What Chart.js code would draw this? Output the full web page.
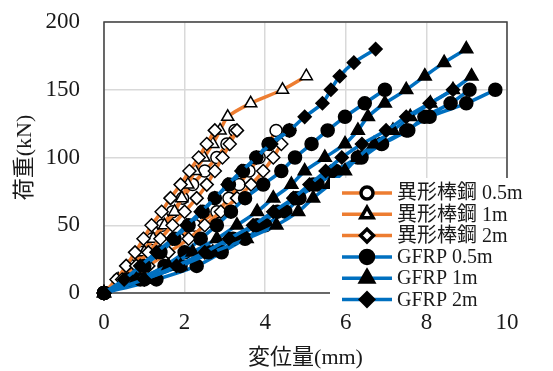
<!DOCTYPE html>
<html lang="ja">
<head>
  <meta charset="UTF-8">
  <title>荷重-変位量</title>
  <script src="https://cdn.jsdelivr.net/npm/chart.js"></script>
  <style>
    * { margin: 0; padding: 0; box-sizing: border-box; }
    body { background: #fff; width: 553px; height: 371px; overflow: hidden; }
  </style>
</head>
<body>
  <canvas id="chart" width="553" height="371"></canvas>

  <script>
    // load steps (kN), shared by every branch
    const loads = [0, 10, 20, 30, 40, 50, 60, 70, 80, 90, 100, 110, 120, 130, 140, 150, 160, 170, 180];

    // displacement (mm) at each load step, one array per loading branch
    const steel05a = [0, 0.35, 0.65, 0.95, 1.2, 1.45, 1.7, 1.95, 2.2, 2.5, 2.8, 3.05, 3.25];
    const steel05b = [0, 0.5, 0.9, 1.35, 1.85, 2.25, 2.8, 3.1, 3.35, 3.6, 3.85, 4.07, 4.27];
    const steel1 = [0, 0.35, 0.7, 1.0, 1.22, 1.5, 1.75, 1.93, 2.08, 2.26, 2.48, 2.7, 2.88, 3.07, 3.64, 4.43, 5.02];
    const steel2a = [0, 0.31, 0.55, 0.77, 0.98, 1.18, 1.43, 1.65, 1.9, 2.12, 2.35, 2.55, 2.75];
    const steel2b = [0, 0.45, 0.8, 1.1, 1.4, 1.7, 2.0, 2.3, 2.55, 2.75, 2.94, 3.12, 3.3];
    const steel2c = [0, 0.6, 1.1, 1.6, 2.1, 2.5, 2.9, 3.3, 3.65, 3.95, 4.2, 4.4];

    const gfrp05a = [0, 0.6, 1.0, 1.4, 1.75, 2.1, 2.45, 2.75, 3.1, 3.45, 3.78, 4.1, 4.6];
    const gfrp05b = [0, 0.9, 1.5, 2.0, 2.4, 2.8, 3.15, 3.5, 3.95, 4.4, 4.74, 5.15, 5.55, 5.98, 6.47, 6.97];
    const gfrp05c = [0, 1.3, 2.3, 2.92, 3.5, 4.0, 4.5, 4.85, 5.19, 5.69, 6.39, 6.88, 7.5, 8.08, 8.99, 9.71];
    const gfrp05d = [0, 1.0, 1.9, 2.6, 3.2, 3.8, 4.3, 4.75, 5.3, 5.75, 6.3, 6.9, 7.55, 7.95, 8.6, 9.07];
    const gfrp1a = [0, 0.8, 1.6, 2.2, 2.8, 3.3, 3.8, 4.2, 4.65, 4.98, 5.48, 5.98, 6.3, 6.55, 6.97, 7.5, 7.96, 8.44, 8.99];
    const gfrp1b = [0, 1.0, 1.9, 2.7, 3.54, 4.28, 4.82, 5.19, 5.6, 5.98, 6.3, 6.7, 7.17, 7.6, 8.1, 8.66, 9.12];
    const gfrp2a = [0, 0.5, 0.9, 1.3, 1.7, 2.05, 2.4, 2.75, 3.07, 3.41, 3.78, 4.15, 4.6, 4.98, 5.42, 5.63, 5.85, 6.2, 6.74];
    const gfrp2b = [0, 1.0, 1.8, 2.5, 3.1, 3.7, 4.2, 4.7, 5.1, 5.5, 5.9, 6.4, 7.0, 7.5, 8.08, 8.66];

    const seriesNames = ['異形棒鋼 0.5m', '異形棒鋼 1m', '異形棒鋼 2m', 'GFRP 0.5m', 'GFRP 1m', 'GFRP 2m'];
    const xTicks = [0, 2, 4, 6, 8, 10];
    const yTicks = [0, 50, 100, 150, 200];

    const ORANGE = '#ED7D31';
    const BLUE = '#0070C0';
    const FONT = "'Liberation Serif', 'Noto Sans CJK JP', serif";

    // join branches into one dataset, with a gap between them
    function branches(...lists) {
      const pts = [];
      lists.forEach((list, k) => {
        if (k > 0) pts.push({ x: null, y: null });
        list.forEach((x, i) => pts.push({ x: x, y: loads[i] }));
      });
      return pts;
    }

    function series(label, data, color, style, fill, radius, order) {
      return {
        label: label,
        data: data,
        borderColor: color,
        borderWidth: 3.5,
        tension: 0.3,
        showLine: true,
        spanGaps: false,
        pointStyle: style,
        pointRadius: radius,
        pointBackgroundColor: fill,
        pointBorderColor: '#000',
        pointBorderWidth: 1.5,
        clip: false,
        order: order
      };
    }

    // custom legend drawn over the lower right of the plot, like the original
    const boxLegend = {
      id: 'boxLegend',
      afterDraw(chart) {
        const ctx = chart.ctx;
        const left = 330, top = 178;
        const rowH = 21.3;
        ctx.save();
        ctx.fillStyle = '#fff';
        ctx.fillRect(left, top, 553 - left, 310 - top);
        chart.data.datasets.forEach((ds, i) => {
          const y = top + 15 + i * rowH;
          ctx.strokeStyle = ds.borderColor;
          ctx.lineWidth = 3.5;
          ctx.beginPath();
          ctx.moveTo(left + 12, y);
          ctx.lineTo(left + 62, y);
          ctx.stroke();
          ctx.fillStyle = ds.pointBackgroundColor;
          ctx.strokeStyle = ds.pointBorderColor;
          Chart.helpers.drawPoint(ctx, {
            pointStyle: ds.pointStyle,
            radius: ds.pointRadius,
            borderWidth: ds.pointBorderWidth,
            rotation: 0
          }, left + 37, y);
          ctx.fillStyle = '#1a1a1a';
          ctx.font = '20px ' + FONT;
          ctx.textBaseline = 'middle';
          ctx.textAlign = 'left';
          ctx.fillText(ds.label, left + 67, y + 1);
        });
        ctx.restore();
      }
    };

    const plotFrame = {
      id: 'plotFrame',
      beforeDatasetsDraw(chart) {
        const a = chart.chartArea;
        const ctx = chart.ctx;
        ctx.save();
        ctx.strokeStyle = '#404040';
        ctx.lineWidth = 1.5;
        ctx.strokeRect(a.left, a.top, a.right - a.left, a.bottom - a.top);
        ctx.restore();
      }
    };

    new Chart(document.getElementById('chart'), {
      type: 'scatter',
      data: {
        datasets: [
          series(seriesNames[0], branches(steel05a, steel05b), ORANGE, 'circle', '#fff', 6, 6),
          series(seriesNames[1], branches(steel1), ORANGE, 'triangle', '#fff', 7, 5),
          series(seriesNames[2], branches(steel2a, steel2b, steel2c), ORANGE, 'rectRot', '#fff', 6.5, 4),
          series(seriesNames[3], branches(gfrp05a, gfrp05b, gfrp05c, gfrp05d), BLUE, 'circle', '#000', 6.5, 3),
          series(seriesNames[4], branches(gfrp1a, gfrp1b), BLUE, 'triangle', '#000', 7.5, 2),
          series(seriesNames[5], branches(gfrp2a, gfrp2b), BLUE, 'rectRot', '#000', 6.5, 1)
        ]
      },
      options: {
        responsive: false,
        animation: false,
        layout: { autoPadding: false, padding: { top: 22, right: 46, left: 0, bottom: 0 } },
        plugins: {
          legend: { display: false },
          tooltip: { enabled: false }
        },
        scales: {
          x: {
            type: 'linear',
            min: 0,
            max: 10,
            afterBuildTicks: (s) => { s.ticks = xTicks.map(v => ({ value: v })); },
            afterFit: (s) => { s.height = 78; s.paddingLeft = 0; s.paddingRight = 0; },
            grid: { color: '#D9D9D9', lineWidth: 1.5, drawTicks: false },
            border: { display: false },
            ticks: { color: '#1a1a1a', padding: 16, font: { family: FONT, size: 23 } },
            title: {
              display: true,
              text: '変位量(mm)',
              color: '#1a1a1a',
              padding: 0,
              font: { family: FONT, size: 22 }
            }
          },
          y: {
            type: 'linear',
            min: 0,
            max: 200,
            afterBuildTicks: (s) => { s.ticks = yTicks.map(v => ({ value: v })); },
            afterFit: (s) => { s.width = 104; s.paddingTop = 0; s.paddingBottom = 0; },
            grid: { color: '#D9D9D9', lineWidth: 1.5, drawTicks: false },
            border: { display: false },
            ticks: { color: '#1a1a1a', padding: 24, font: { family: FONT, size: 23 } },
            title: {
              display: true,
              text: '荷重(kN)',
              color: '#1a1a1a',
              padding: { top: 12, bottom: 0 },
              font: { family: FONT, size: 22 }
            }
          }
        }
      },
      plugins: [plotFrame, boxLegend]
    });
  </script>
</body>
</html>
